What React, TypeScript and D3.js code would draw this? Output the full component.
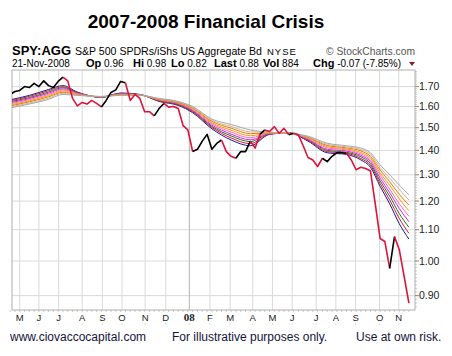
import React from "react";
import * as d3 from "d3";

// Weekly closes of SPY:AGG ratio, week 0 = 20-Apr-2007 ... week 83 = 21-Nov-2008
const closes = [
  1.66, 1.675, 1.68, 1.7, 1.695, 1.717, 1.7, 1.73, 1.705, 1.695,
  1.727, 1.75, 1.73, 1.64, 1.603, 1.62, 1.612, 1.63, 1.615, 1.598,
  1.63, 1.67, 1.683, 1.727, 1.72, 1.63, 1.66, 1.64, 1.575, 1.575,
  1.555, 1.59, 1.615, 1.597, 1.6, 1.59, 1.51, 1.49, 1.395, 1.405,
  1.44, 1.47, 1.405, 1.43, 1.445, 1.395, 1.375, 1.367, 1.395, 1.395,
  1.44, 1.41, 1.47, 1.49, 1.483, 1.505, 1.475, 1.497, 1.468, 1.475,
  1.468, 1.42, 1.37, 1.36, 1.333, 1.367, 1.353, 1.375, 1.39, 1.39,
  1.388, 1.36, 1.32, 1.33, 1.325, 1.315, 1.19, 1.071, 1.061, 0.978,
  1.077, 1.035, 0.955, 0.88,
];

// week ranges where the price line is drawn red
const redRuns = [
  [11, 19], [24, 30], [32, 38], [44, 47], [50, 52], [53, 58], [59, 65], [70, 79], [80, 83],
];

// moving-average sample weeks
const maWeeks = [0, 4, 8, 11, 14, 19, 23, 27, 31, 35, 38, 42, 46, 50, 54, 58, 62, 66, 70, 73, 75, 77, 79, 81, 83];

const ma1 = [1.633, 1.655, 1.685, 1.705, 1.672, 1.645, 1.667, 1.66, 1.625, 1.605, 1.57, 1.495, 1.445, 1.42, 1.47, 1.477, 1.44, 1.39, 1.383, 1.36, 1.33, 1.255, 1.19, 1.12, 1.069];
const ma2 = [1.628, 1.65, 1.679, 1.699, 1.67, 1.646, 1.666, 1.659, 1.627, 1.608, 1.574, 1.501, 1.454, 1.429, 1.471, 1.477, 1.443, 1.395, 1.388, 1.366, 1.338, 1.266, 1.204, 1.138, 1.088];
const ma3 = [1.623, 1.644, 1.672, 1.694, 1.668, 1.646, 1.664, 1.659, 1.629, 1.61, 1.578, 1.506, 1.463, 1.438, 1.473, 1.476, 1.446, 1.4, 1.392, 1.373, 1.345, 1.276, 1.218, 1.155, 1.108];
const ma4 = [1.618, 1.639, 1.666, 1.688, 1.666, 1.647, 1.663, 1.658, 1.631, 1.613, 1.581, 1.512, 1.471, 1.446, 1.474, 1.476, 1.448, 1.405, 1.397, 1.379, 1.353, 1.287, 1.231, 1.173, 1.127];
const ma5 = [1.613, 1.634, 1.66, 1.683, 1.664, 1.648, 1.661, 1.658, 1.633, 1.615, 1.585, 1.518, 1.48, 1.455, 1.475, 1.476, 1.451, 1.411, 1.402, 1.385, 1.36, 1.298, 1.245, 1.19, 1.146];
const ma6 = [1.608, 1.628, 1.654, 1.677, 1.661, 1.648, 1.66, 1.657, 1.634, 1.618, 1.589, 1.523, 1.489, 1.464, 1.476, 1.476, 1.454, 1.416, 1.406, 1.391, 1.368, 1.308, 1.259, 1.208, 1.165];
const ma7 = [1.603, 1.623, 1.648, 1.671, 1.659, 1.649, 1.658, 1.656, 1.636, 1.62, 1.593, 1.529, 1.498, 1.473, 1.478, 1.476, 1.457, 1.421, 1.411, 1.398, 1.375, 1.319, 1.273, 1.225, 1.185];
const ma8 = [1.598, 1.617, 1.641, 1.666, 1.657, 1.649, 1.657, 1.656, 1.638, 1.623, 1.596, 1.534, 1.506, 1.481, 1.479, 1.475, 1.459, 1.426, 1.415, 1.404, 1.383, 1.329, 1.286, 1.243, 1.204];
const ma9 = [1.593, 1.612, 1.635, 1.66, 1.655, 1.65, 1.655, 1.655, 1.64, 1.625, 1.6, 1.54, 1.515, 1.49, 1.48, 1.475, 1.462, 1.431, 1.42, 1.41, 1.39, 1.34, 1.3, 1.26, 1.223];
const maLines = [ma1, ma2, ma3, ma4, ma5, ma6, ma7, ma8, ma9];
const maColors = ["#1a1a90", "#dc143c", "#1a7a1a", "#e020e0", "#ff66cc", "#ff9900", "#e07a10", "#d2b48c", "#a0a8b0"];

// month labels and the week on which each month's grid line falls
const monthLabels = ["M", "J", "J", "A", "S", "O", "N", "D", "08", "F", "M", "A", "M", "J", "J", "A", "S", "O", "N"];
const monthWeeks = [2, 6, 10.1, 15, 19.2, 23.3, 28.1, 32.4, 37.3, 41.6, 45.8, 50.5, 54.6, 58.7, 63.7, 67.8, 71.9, 76.9, 80.9];

const yTicks = [0.9, 1.0, 1.1, 1.2, 1.3, 1.4, 1.5, 1.6, 1.7];

const W = 452;
const H = 356;
const L = 12, R = 415, T = 70, B = 310;
const FONT = "Arial, 'Liberation Sans', Helvetica, sans-serif";

export default function App() {
  const x = d3.scaleLinear().domain([0, closes.length - 1]).range([10.1, 408.9]);
  const y = d3.scaleLog().domain([0.8615, 1.788]).range([B, T]);

  const isRed = (i: number) => redRuns.some(([a, b]) => i >= a && i < b);
  const runs: { red: boolean; pts: number[] }[] = [];
  for (let i = 0; i < closes.length - 1; i++) {
    const red = isRed(i);
    const last = runs[runs.length - 1];
    if (last && last.red === red) last.pts.push(i + 1);
    else runs.push({ red, pts: [i, i + 1] });
  }
  const priceLine = d3
    .line<number>()
    .x((i) => x(i))
    .y((i) => y(closes[i]));

  const maLine = d3
    .line<number>()
    .x((_, j) => x(maWeeks[j]))
    .y((v) => y(v))
    .curve(d3.curveMonotoneX);

  const minorY = d3.range(87, 179).map((k) => k / 100);

  return (
    <svg
      width={W}
      height={H}
      style={{ position: "absolute", left: 0, top: 0, background: "#fff" }}
      fontFamily={FONT}
    >
      <rect width={W} height={H} fill="#fff" />
      <defs>
        <clipPath id="plot">
          <rect x={L} y={T} width={R - L} height={B - T} />
        </clipPath>
      </defs>

      {/* title */}
      <text x={206} y={28} textAnchor="middle" fontSize={19} fontWeight="bold" fill="#000">
        2007-2008 Financial Crisis
      </text>

      {/* header line 1 */}
      <text x={12} y={55} fontSize={13} fontWeight="bold" fill="#000" textLength={59} lengthAdjust="spacingAndGlyphs">SPY:AGG</text>
      <text x={75} y={55} fontSize={11} fill="#000" textLength={187} lengthAdjust="spacingAndGlyphs">
        S&amp;P 500 SPDRs/iShs US Aggregate Bd
      </text>
      <text x={267} y={55} fontSize={9.5} fill="#000" letterSpacing={1}>NYSE</text>
      <text x={326} y={55} fontSize={11} fill="#555" textLength={89} lengthAdjust="spacingAndGlyphs">
        © StockCharts.com
      </text>

      {/* header line 2 */}
      <g fontSize={10} fill="#000">
        <text x={12} y={67}>21-Nov-2008</text>
        <text x={86} y={67}><tspan fontWeight="bold" fontSize={11}>Op</tspan> 0.96</text>
        <text x={133} y={67}><tspan fontWeight="bold" fontSize={11}>Hi</tspan> 0.98</text>
        <text x={171} y={67}><tspan fontWeight="bold" fontSize={11}>Lo</tspan> 0.82</text>
        <text x={214} y={67}><tspan fontWeight="bold" fontSize={11}>Last</tspan> 0.88</text>
        <text x={263} y={67}><tspan fontWeight="bold" fontSize={11}>Vol</tspan> 884</text>
        <text x={313} y={67}><tspan fontWeight="bold" fontSize={11}>Chg</tspan> -0.07 (-7.85%)</text>
      </g>
      <path d="M409,62 L415,62 L412,66 Z" fill="#8b1a2b" />

      {/* grid */}
      {yTicks.map((t) => (
        <line key={"h" + t} x1={L} x2={R} y1={y(t)} y2={y(t)} stroke="#dadada" strokeWidth={1} />
      ))}
      {monthWeeks.map((w, k) => (
        <line
          key={"v" + k}
          x1={x(w)}
          x2={x(w)}
          y1={T}
          y2={B}
          stroke={monthLabels[k] === "08" ? "#b4b4b4" : "#dadada"}
          strokeWidth={1}
        />
      ))}

      {/* frame */}
      <rect x={L} y={T} width={R - L} height={B - T} fill="none" stroke="#b0b0b0" strokeWidth={1} />

      {/* right axis ticks */}
      {minorY.map((v) => (
        <line key={"m" + v} x1={R} x2={R + 2} y1={y(v)} y2={y(v)} stroke="#aaa" strokeWidth={0.6} />
      ))}
      {yTicks.map((t) => (
        <g key={"yt" + t}>
          <line x1={R} x2={R + 4} y1={y(t)} y2={y(t)} stroke="#888" />
          <text x={419} y={y(t)} dy="0.35em" fontSize={10.5} fill="#222">
            {t.toFixed(2)}
          </text>
        </g>
      ))}

      {/* bottom weekly ticks */}
      {closes.map((_, i) => (
        <line key={"wt" + i} x1={x(i)} x2={x(i)} y1={B} y2={B + 2} stroke="#aaa" strokeWidth={0.6} />
      ))}
      {monthWeeks.map((w, k) => (
        <g key={"ml" + k}>
          <text
            x={x(w)}
            y={320.5}
            textAnchor="middle"
            fontSize={monthLabels[k] === "08" ? 11 : 9.5}
            fontWeight={monthLabels[k] === "08" ? "bold" : "normal"}
            fontFamily={monthLabels[k] === "08" ? "'Liberation Serif', 'Times New Roman', serif" : FONT}
            fill="#222"
          >
            {monthLabels[k]}
          </text>
          <rect x={x(w) - 0.5} y={323.5} width={1} height={1} fill="#bbb" />
        </g>
      ))}

      {/* moving averages and price */}
      <g clipPath="url(#plot)">
        {maLines.map((vals, k) => (
          <path key={"ma" + k} d={maLine(vals) || ""} fill="none" stroke={maColors[k]} strokeWidth={1} />
        ))}
        {runs.map((r, k) => (
          <path
            key={"p" + k}
            d={priceLine(r.pts) || ""}
            fill="none"
            stroke={r.red ? "#dc143c" : "#000"}
            strokeWidth={1.6}
            strokeLinejoin="round"
          />
        ))}
      </g>

      {/* footer */}
      <g fontSize={12} fill="#14143a">
        <text x={10} y={341}>www.ciovaccocapital.com</text>
        <text x={172} y={341}>For illustrative purposes only.</text>
        <text x={356} y={341}>Use at own risk.</text>
      </g>
    </svg>
  );
}
